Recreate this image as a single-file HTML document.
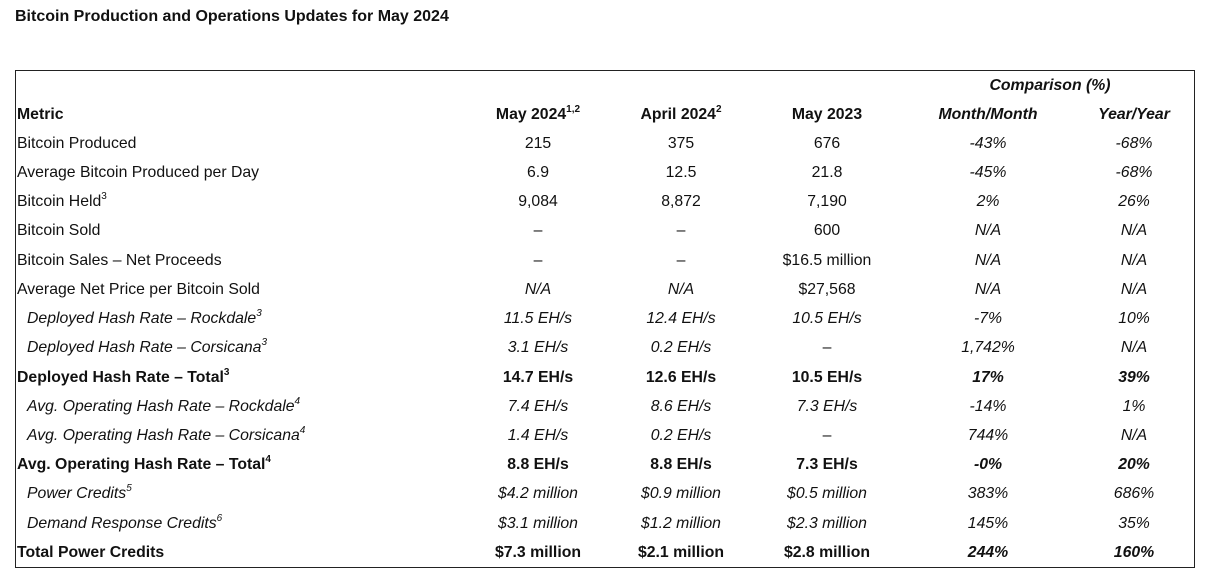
<!DOCTYPE html>
<html><head><meta charset="utf-8"><style>
body{margin:0;width:1217px;height:585px;background:#fff;font-family:"Liberation Sans",sans-serif;color:#111;position:relative;overflow:hidden}
.t{position:absolute;left:15px;top:8px;font-weight:bold;font-size:16px}
.box{position:absolute;left:15px;top:70px;width:1178px;height:496px;border:1px solid #222}
.r{position:absolute;left:0;width:1217px;height:29px;line-height:29px;font-size:15.8px;white-space:nowrap}
.r span{position:absolute;text-align:center;width:160px}
.m{left:17px;text-align:left!important;width:auto!important}
.i{left:27px;font-style:italic}
.c1{left:458px}.c2{left:601px}.c3{left:747px}.c4{left:908px}.c5{left:1054px}
.it span{font-style:italic}
.b{font-weight:bold}
sup{font-size:10px;line-height:0;vertical-align:7px}
</style></head><body>
<div class="t">Bitcoin Production and Operations Updates for May 2024</div>
<div class="box"></div>
<div class="r b" style="top:71px"><span style="left:915px;width:270px;font-style:italic">Comparison (%)</span></div>
<div class="r b" style="top:100px"><span class="m">Metric</span><span class="c1">May 2024<sup>1,2</sup></span><span class="c2">April 2024<sup>2</sup></span><span class="c3">May 2023</span><span class="c4" style="font-style:italic">Month/Month</span><span class="c5" style="font-style:italic">Year/Year</span></div>
<div class="r" style="top:129px"><span class="m">Bitcoin Produced</span><span class="c1">215</span><span class="c2">375</span><span class="c3">676</span><span class="c4"><i>-43%</i></span><span class="c5"><i>-68%</i></span></div>
<div class="r" style="top:158px"><span class="m">Average Bitcoin Produced per Day</span><span class="c1">6.9</span><span class="c2">12.5</span><span class="c3">21.8</span><span class="c4"><i>-45%</i></span><span class="c5"><i>-68%</i></span></div>
<div class="r" style="top:187px"><span class="m">Bitcoin Held<sup>3</sup></span><span class="c1">9,084</span><span class="c2">8,872</span><span class="c3">7,190</span><span class="c4"><i>2%</i></span><span class="c5"><i>26%</i></span></div>
<div class="r" style="top:216px"><span class="m">Bitcoin Sold</span><span class="c1">–</span><span class="c2">–</span><span class="c3">600</span><span class="c4"><i>N/A</i></span><span class="c5"><i>N/A</i></span></div>
<div class="r" style="top:246px"><span class="m">Bitcoin Sales – Net Proceeds</span><span class="c1">–</span><span class="c2">–</span><span class="c3">$16.5 million</span><span class="c4"><i>N/A</i></span><span class="c5"><i>N/A</i></span></div>
<div class="r" style="top:275px"><span class="m">Average Net Price per Bitcoin Sold</span><span class="c1"><i>N/A</i></span><span class="c2"><i>N/A</i></span><span class="c3">$27,568</span><span class="c4"><i>N/A</i></span><span class="c5"><i>N/A</i></span></div>
<div class="r it" style="top:304px"><span class="m i">Deployed Hash Rate – Rockdale<sup>3</sup></span><span class="c1">11.5 EH/s</span><span class="c2">12.4 EH/s</span><span class="c3">10.5 EH/s</span><span class="c4">-7%</span><span class="c5">10%</span></div>
<div class="r it" style="top:333px"><span class="m i">Deployed Hash Rate – Corsicana<sup>3</sup></span><span class="c1">3.1 EH/s</span><span class="c2">0.2 EH/s</span><span class="c3" style="font-style:normal">–</span><span class="c4">1,742%</span><span class="c5">N/A</span></div>
<div class="r b" style="top:363px"><span class="m">Deployed Hash Rate – Total<sup>3</sup></span><span class="c1">14.7 EH/s</span><span class="c2">12.6 EH/s</span><span class="c3">10.5 EH/s</span><span class="c4"><i>17%</i></span><span class="c5"><i>39%</i></span></div>
<div class="r it" style="top:392px"><span class="m i">Avg. Operating Hash Rate – Rockdale<sup>4</sup></span><span class="c1">7.4 EH/s</span><span class="c2">8.6 EH/s</span><span class="c3">7.3 EH/s</span><span class="c4">-14%</span><span class="c5">1%</span></div>
<div class="r it" style="top:421px"><span class="m i">Avg. Operating Hash Rate – Corsicana<sup>4</sup></span><span class="c1">1.4 EH/s</span><span class="c2">0.2 EH/s</span><span class="c3" style="font-style:normal">–</span><span class="c4">744%</span><span class="c5">N/A</span></div>
<div class="r b" style="top:450px"><span class="m">Avg. Operating Hash Rate – Total<sup>4</sup></span><span class="c1">8.8 EH/s</span><span class="c2">8.8 EH/s</span><span class="c3">7.3 EH/s</span><span class="c4"><i>-0%</i></span><span class="c5"><i>20%</i></span></div>
<div class="r it" style="top:479px"><span class="m i">Power Credits<sup>5</sup></span><span class="c1">$4.2 million</span><span class="c2">$0.9 million</span><span class="c3">$0.5 million</span><span class="c4">383%</span><span class="c5">686%</span></div>
<div class="r it" style="top:509px"><span class="m i">Demand Response Credits<sup>6</sup></span><span class="c1">$3.1 million</span><span class="c2">$1.2 million</span><span class="c3">$2.3 million</span><span class="c4">145%</span><span class="c5">35%</span></div>
<div class="r b" style="top:538px"><span class="m">Total Power Credits</span><span class="c1">$7.3 million</span><span class="c2">$2.1 million</span><span class="c3">$2.8 million</span><span class="c4"><i>244%</i></span><span class="c5"><i>160%</i></span></div>
</body></html>
